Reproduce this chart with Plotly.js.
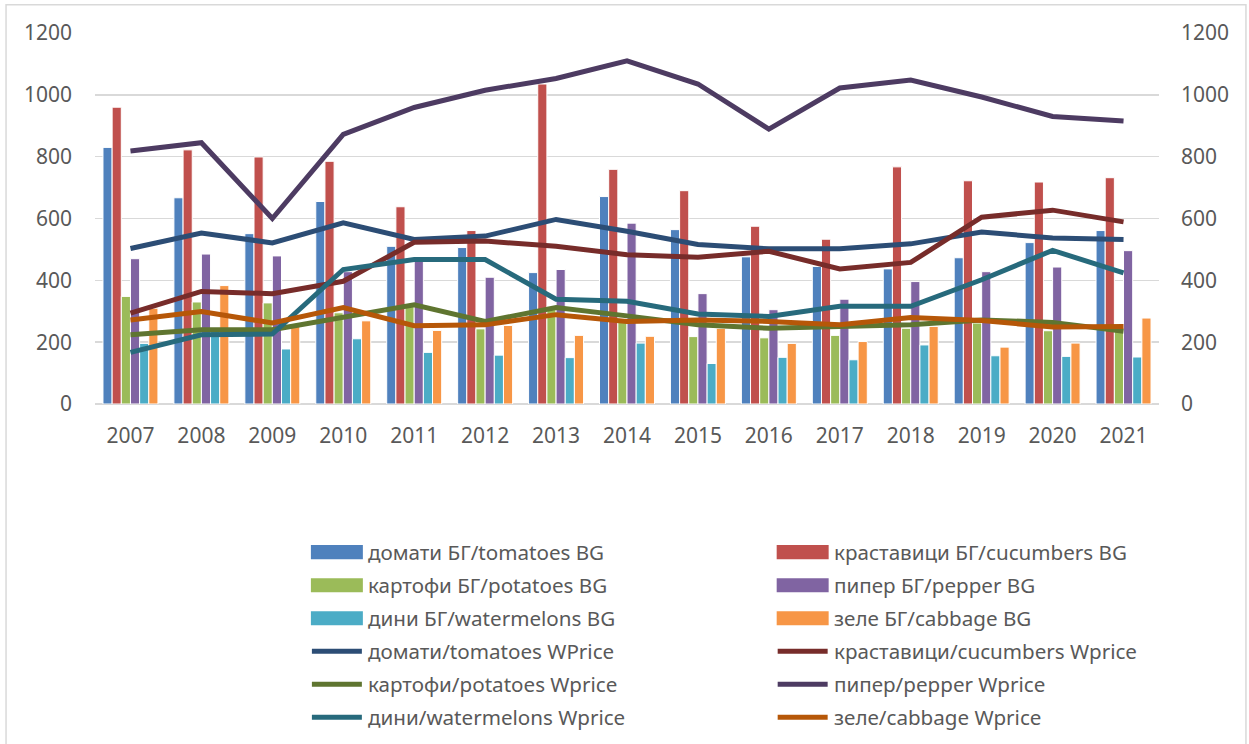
<!DOCTYPE html>
<html>
<head>
<meta charset="utf-8">
<script src="https://cdn.plot.ly/plotly-3.0.1.min.js"></script>
<style>html,body{margin:0;padding:0;background:#fff;}#chart{width:1249px;height:744px;}</style>
</head>
<body>
<div id="chart"></div>
<script>
// ---- data ----
const years = ['2007','2008','2009','2010','2011','2012','2013','2014','2015','2016','2017','2018','2019','2020','2021'];

const tomatoesBG    = [830,667,551,655,510,506,425,671,564,476,445,437,473,522,561];
const cucumbersBG   = [960,822,799,785,638,561,1035,759,690,575,533,767,722,718,732];
const potatoesBG    = [348,330,327,295,318,243,315,268,218,214,222,245,262,237,235];
const pepperBG      = [470,485,479,428,467,410,435,585,357,305,339,396,428,443,496];
const watermelonsBG = [196,235,178,211,167,158,150,197,131,151,143,191,156,154,152];
const cabbageBG     = [310,383,255,269,238,254,222,219,245,196,202,251,184,197,278];

const tomatoesW     = [503,553,521,586,532,543,597,559,516,502,502,518,556,537,532];
const cucumbersW    = [294,364,357,397,523,527,510,483,475,494,437,458,604,627,589];
const potatoesW     = [224,240,240,280,321,267,312,285,256,245,251,256,272,264,235];
const pepperW       = [818,845,600,872,959,1015,1053,1110,1035,889,1022,1048,993,930,915];
const watermelonsW  = [167,224,226,435,467,467,339,332,291,283,316,316,402,497,424];
const cabbageW      = [272,299,262,312,253,256,289,267,272,267,256,280,270,249,251];

const barNames  = ['домати БГ/tomatoes BG','краставици БГ/cucumbers BG','картофи БГ/potatoes BG','пипер БГ/pepper BG','дини БГ/watermelons BG','зеле БГ/cabbage BG'];
const lineNames = ['домати/tomatoes WPrice','краставици/cucumbers Wprice','картофи/potatoes Wprice','пипер/pepper Wprice','дини/watermelons Wprice','зеле/cabbage Wprice'];
const yTicks = [0,200,400,600,800,1000,1200];

// ---- styles ----
const barColors  = ['#4F81BD','#C0504D','#9BBB59','#8064A2','#4BACC6','#F79646'];
const lineColors = ['#2C4D75','#772C2A','#5F7530','#4D3B62','#276A7C','#B65708'];
const FONT = 'Noto Sans, Open Sans, DejaVu Sans, sans-serif';
const TXT = '#595959';

const barData  = [tomatoesBG,cucumbersBG,potatoesBG,pepperBG,watermelonsBG,cabbageBG];
const lineData = [tomatoesW,cucumbersW,potatoesW,pepperW,watermelonsW,cabbageW];

const traces = [];
barData.forEach((v,i)=>traces.push({
  type:'bar', x:years, y:v, name:barNames[i], yaxis:'y',
  marker:{color:barColors[i], line:{color:'#fff', width:1}},
  showlegend:false, hoverinfo:'x+y+name'
}));
lineData.forEach((v,i)=>traces.push({
  type:'scatter', mode:'lines', x:years, y:v, name:lineNames[i], yaxis:'y2',
  line:{color:lineColors[i], width:5},
  showlegend:false
}));

// pixel geometry of the plot area
const W=1249, H=744, L=95, R=1159.5, T=33.3, B=404;
const px = x => (x-L)/(R-L);
const py = y => (B-y)/(B-T);

const shapes = [];
const annotations = [];
// outer chart border
shapes.push({type:'rect', xref:'paper', yref:'paper', x0:px(6), x1:px(1246.5), y0:py(5), y1:py(760),
  line:{color:'#D9D9D9', width:1.5}, fillcolor:'rgba(0,0,0,0)', layer:'below'});

// legend: two columns, items row-major
const legendItems = [];
for (let i=0;i<6;i++) legendItems.push({name:barNames[i], color:barColors[i], kind:'bar'});
for (let i=0;i<6;i++) legendItems.push({name:lineNames[i], color:lineColors[i], kind:'line'});
const colX = [311, 777];
const rowY0 = 552, rowStep = 33;
legendItems.forEach((it,k)=>{
  const col = k%2, row = Math.floor(k/2);
  const cx = colX[col], cy = rowY0 + row*rowStep;
  if (it.kind==='bar') {
    shapes.push({type:'rect', xref:'paper', yref:'paper', x0:px(cx), x1:px(cx+52), y0:py(cy-7), y1:py(cy+7),
      line:{width:0}, fillcolor:it.color});
  } else {
    shapes.push({type:'line', xref:'paper', yref:'paper', x0:px(cx+1), x1:px(cx+51), y0:py(cy), y1:py(cy),
      line:{color:it.color, width:5}});
  }
  annotations.push({xref:'paper', yref:'paper', x:px(cx+55), y:py(cy), xanchor:'left', yanchor:'middle',
    text:it.name, showarrow:false, font:{family:FONT, size:20.6, color:TXT}});
});

const layout = {
  width:W, height:H,
  margin:{l:L, r:W-R, t:T, b:H-B, pad:0},
  paper_bgcolor:'#fff', plot_bgcolor:'#fff',
  barmode:'group', bargap:0.225, bargroupgap:0,
  showlegend:false,
  font:{family:FONT, color:TXT},
  xaxis:{type:'category', showgrid:false, showline:false, ticks:'', zeroline:false,
    tickfont:{family:FONT, size:21, color:TXT}, ticklabelstandoff:17, fixedrange:true},
  yaxis:{range:[0,1200], tickvals:yTicks, ticktext:yTicks.map(String), showgrid:true, gridcolor:'#D9D9D9', gridwidth:1.5,
    zeroline:true, zerolinecolor:'#D9D9D9', zerolinewidth:1.5, ticks:'', showline:false,
    tickfont:{family:FONT, size:21, color:TXT}, ticklabelstandoff:22, fixedrange:true},
  yaxis2:{range:[0,1200], tickvals:yTicks, ticktext:yTicks.map(String), overlaying:'y', side:'right', showgrid:false, zeroline:false,
    ticks:'', showline:false, tickfont:{family:FONT, size:21, color:TXT}, ticklabelstandoff:21, fixedrange:true},
  shapes:shapes,
  annotations:annotations
};

Plotly.newPlot('chart', traces, layout, {displayModeBar:false, staticPlot:true});
</script>
</body>
</html>
